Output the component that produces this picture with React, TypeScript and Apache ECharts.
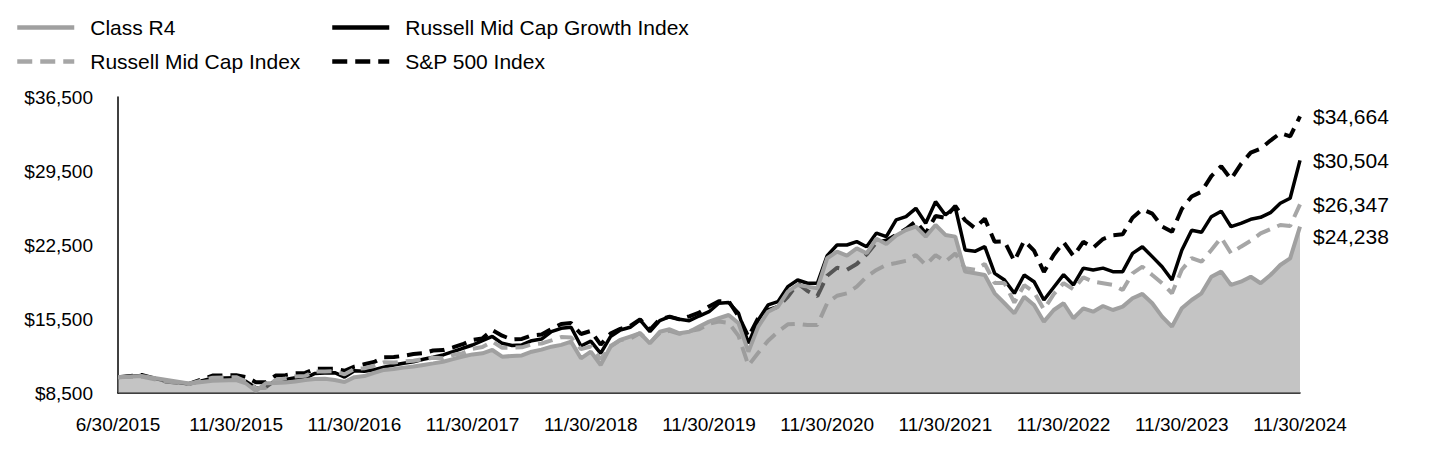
import React, { useEffect, useRef } from 'react';
import * as echarts from 'echarts';

const tickLabels = [
  '6/30/2015', '11/30/2015', '11/30/2016', '11/30/2017', '11/30/2018', '11/30/2019',
  '11/30/2020', '11/30/2021', '11/30/2022', '11/30/2023', '11/30/2024',
];

// Monthly values, 6/30/2015 .. 11/30/2024 (114 points)
const classR4 = [
  10000, 10100, 9750, 9400, 9650, 9730, 9400, 8700, 9420, 9450, 9500, 9580,
  9730, 9820, 9850, 9730, 9540, 10000, 10100, 10400, 10680, 10780, 10900, 11000,
  11150, 11300, 11460, 11700, 11950, 12150, 12250, 12570, 11940, 12000, 12050, 12410,
  12600, 12880, 13050, 13360, 11780, 12410, 11150, 12880, 13520, 13840, 14150, 13200,
  14300, 14530, 14150, 14300, 14780, 15250, 15570, 15880, 15090, 12410, 14780, 16190,
  16670, 18080, 18720, 18560, 18400, 21250, 21870, 21500, 22180, 21720, 23100, 22600,
  23400, 23920, 24230, 23290, 24390, 23450, 23290, 19980, 19820, 19660, 17930, 16990,
  16040, 17610, 16830, 15250, 16350, 16990, 15570, 16510, 16190, 16730, 16350, 16670,
  17460, 17870, 16990, 15730, 14780, 16510, 17300, 17930, 19500, 19980, 18720, 19030,
  19500, 18880, 19660, 20610, 21240, 24238,
];

const midCapGrowth = [
  10000, 10150, 9650, 9350, 9900, 9950, 9600, 9000, 9030, 9700, 9780, 9950,
  9900, 10350, 10400, 10420, 10000, 10600, 10560, 10700, 10950, 11150, 11310, 11460,
  11690, 11880, 12100, 12410, 12730, 13040, 13450, 13850, 13200, 13000, 13050, 13450,
  13600, 14300, 14620, 14720, 12950, 13400, 12250, 13840, 14460, 14720, 15410, 14300,
  15340, 15720, 15470, 15340, 15780, 16190, 16990, 17050, 16040, 13200, 15410, 16830,
  17140, 18560, 19190, 18880, 18880, 21500, 22500, 22500, 22820, 22340, 23630, 23290,
  24870, 25180, 25970, 24550, 26600, 25340, 26070, 22030, 21900, 22340, 19820, 19190,
  17930, 19660, 19030, 17300, 18500, 19700, 18720, 20310, 20140, 20310, 19980, 19980,
  21710, 22340, 21400, 20450, 19190, 22000, 23900, 23700, 25180, 25700, 24230, 24550,
  24930, 25120, 25560, 26450, 26920, 30504,
];

const midCap = [
  10000, 10050, 9600, 9350, 9950, 10000, 9600, 8950, 9000, 9740, 9880, 10070,
  10120, 10520, 10540, 10560, 10270, 10780, 10845, 11080, 11400, 11380, 11480, 11550,
  11710, 11830, 11780, 12090, 12270, 12690, 12854, 13370, 12780, 12790, 12820, 13090,
  13180, 13470, 13790, 13750, 12650, 12900, 11690, 12950, 13510, 13630, 14170, 13240,
  14180, 14380, 14090, 14360, 14520, 15060, 15260, 15140, 13900, 11100, 12300, 13450,
  14300, 15000, 15050, 14930, 14930, 17000, 17700, 17930, 18560, 19500, 20140, 20610,
  20800, 21000, 21550, 20610, 21550, 20920, 21700, 20300, 20150, 20700, 18900, 18900,
  17050, 18700, 18050, 16400, 17850, 18900, 18300, 19450, 19030, 18880, 18720, 18240,
  19820, 20450, 19660, 18880, 17930, 20150, 21270, 20920, 22030, 23200, 21710, 22340,
  22900, 23600, 24000, 24390, 24300, 26347,
];

const sp500 = [
  10000, 10210, 9594, 9357, 10147, 10177, 10016, 9519, 9507, 10152, 10191, 10374,
  10401, 10785, 10800, 10802, 10606, 10999, 11217, 11430, 11884, 11898, 12021, 12190,
  12266, 12519, 12558, 12817, 13115, 13518, 13668, 14451, 13918, 13564, 13616, 13944,
  14031, 14553, 15027, 15113, 14079, 14366, 13069, 14116, 14569, 14852, 15453, 14472,
  15492, 15715, 15467, 15756, 16098, 16682, 17186, 17179, 15765, 13818, 15590, 16332,
  16657, 17596, 18862, 18145, 17663, 19597, 20350, 20144, 20700, 21607, 22761, 22920,
  23454, 24012, 24742, 23592, 25246, 25072, 26195, 24841, 24098, 24992, 22812, 22853,
  20968, 22901, 21967, 19944, 21559, 22764, 21453, 22800, 22244, 23060, 23420, 23521,
  25076, 25881, 25469, 24254, 23745, 25913, 27089, 27544, 29015, 29949, 28727, 30152,
  31234, 31615, 32383, 33076, 32775, 34664,
];

// Axis position of each point: the first five months fill one label step,
// then each month is one unit (12 per labelled year).
const xPos = (i: number) => (i <= 5 ? (i * 12) / 5 : 12 + (i - 5));
const toPairs = (arr: number[]) => arr.map((v, i) => [xPos(i), v]);
const money = (v: number) => '$' + Math.round(v).toLocaleString('en-US');

const FONT = "'Liberation Sans', Arial, Helvetica, sans-serif";

export default function App() {
  const ref = useRef<HTMLDivElement>(null);

  useEffect(() => {
    const chart = echarts.init(ref.current!, null, { renderer: 'svg' });
    const endLabel = (offset: number[]) => ({
      show: true,
      formatter: (p: any) => money(Array.isArray(p.value) ? p.value[1] : p.value),
      fontSize: 21,
      color: '#000',
      fontFamily: FONT,
      distance: 13,
      offset,
    });
    const legendCommon = {
      orient: 'vertical',
      top: 17,
      padding: 0,
      itemWidth: 57,
      itemHeight: 20,
      itemGap: 13,
      selectedMode: false,
      itemStyle: { color: 'rgba(0,0,0,0)', borderColor: 'rgba(0,0,0,0)', borderWidth: 0 },
      lineStyle: { width: 4.5 },
      textStyle: { fontSize: 21, color: '#000', fontFamily: FONT, padding: [0, 0, 0, 11] },
    };
    chart.setOption({
      animation: false,
      backgroundColor: '#fff',
      textStyle: { fontFamily: FONT },
      legend: [
        { ...legendCommon, left: 15, data: ['Class R4', 'Russell Mid Cap Index'] },
        { ...legendCommon, left: 330, data: ['Russell Mid Cap Growth Index', 'S&P 500 Index'] },
      ],
      grid: { left: 118, right: 140, top: 97, bottom: 75 },
      xAxis: {
        type: 'value',
        min: 0,
        max: 120,
        interval: 12,
        axisLine: { show: true, onZero: false, lineStyle: { color: '#000', width: 1.5 } },
        axisTick: { show: false },
        splitLine: { show: false },
        axisLabel: {
          formatter: (v: number) => tickLabels[Math.round(v / 12)] ?? '',
          fontSize: 19,
          color: '#000',
          margin: 22,
          fontFamily: FONT,
          showMinLabel: true,
          showMaxLabel: true,
        },
      },
      yAxis: {
        type: 'value',
        min: 8500,
        max: 36500,
        interval: 7000,
        axisLine: { show: true, lineStyle: { color: '#000', width: 1.5 } },
        axisTick: { show: false },
        splitLine: { show: false },
        axisLabel: {
          formatter: (v: number) => money(v),
          fontSize: 19,
          color: '#000',
          margin: 25,
          fontFamily: FONT,
        },
      },
      series: [
        {
          name: 'S&P 500 Index',
          type: 'line',
          data: toPairs(sp500),
          symbol: 'none',
          color: '#000',
          lineStyle: { color: '#000', width: 4, type: [15, 8] },
          endLabel: endLabel([0, 0]),
          z: 2,
        },
        {
          name: 'Russell Mid Cap Growth Index',
          type: 'line',
          data: toPairs(midCapGrowth),
          symbol: 'none',
          color: '#000',
          lineStyle: { color: '#000', width: 3.5 },
          endLabel: endLabel([0, 0]),
          z: 3,
        },
        {
          name: 'Russell Mid Cap Index',
          type: 'line',
          data: toPairs(midCap),
          symbol: 'none',
          color: '#a6a6a6',
          lineStyle: { color: '#a6a6a6', width: 4, type: [15, 8] },
          endLabel: endLabel([0, 0]),
          z: 4,
        },
        {
          name: 'Class R4',
          type: 'line',
          data: toPairs(classR4),
          symbol: 'none',
          color: '#a0a0a0',
          lineStyle: { color: '#a0a0a0', width: 4 },
          areaStyle: { color: 'rgb(150,150,150)', opacity: 0.565, origin: 'start' },
          endLabel: endLabel([0, 10]),
          z: 5,
        },
      ],
    });
    return () => chart.dispose();
  }, []);

  return (
    <div
      ref={ref}
      style={{ position: 'fixed', left: 0, top: 0, width: 1440, height: 468, background: '#fff' }}
    />
  );
}
